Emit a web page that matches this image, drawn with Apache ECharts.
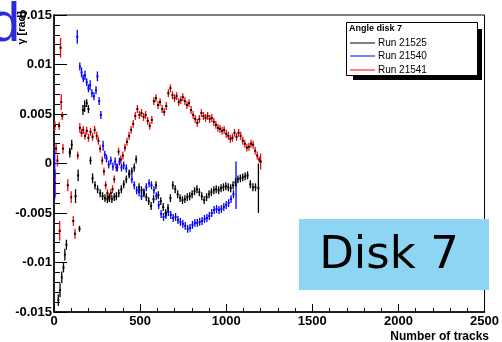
<!DOCTYPE html>
<html><head><meta charset="utf-8">
<script src="https://cdn.jsdelivr.net/npm/echarts@6/dist/echarts.min.js"></script>
<style>html,body{margin:0;padding:0;background:#fff}#c{width:502px;height:342px}</style>
</head><body><div id="c"></div>
<script>
// Tick labels
var xTicks = [0, 500, 1000, 1500, 2000, 2500];
var yTicks = [-0.015, -0.01, -0.005, 0, 0.005, 0.01, 0.015];
var legendTitle = 'Angle disk 7';
var seriesNames = ['Run 21525', 'Run 21540', 'Run 21541'];
// [number of tracks, angle (rad), error]
var run21525 = [
[25,-0.0138,0.0006],[35,-0.0128,0.0007],[45,-0.0115,0.0006],[55,-0.0105,0.0005],[63,-0.0092,0.0006],[72,-0.0082,0.0005],
[92,0.0011,0.0005],[103,0.0019,0.0005],[125,-0.0033,0.0007],[140,-0.0012,0.0006],[148,-0.0066,0.0003],
[168,0.0054,0.0005],[178,0.0058,0.0006],[190,0.0061,0.0004],[200,0.0055,0.0004],[212,0.0003,0.0004],
[224,-0.0015,0.0005],[238,-0.0022,0.0004],[253,-0.0026,0.0004],[268,-0.003,0.0004],[282,-0.0033,0.0004],[296,-0.0035,0.0004],
[310,-0.0036,0.0004],[322,-0.0035,0.0004],[336,-0.0036,0.0004],[350,-0.0034,0.0004],[362,-0.0033,0.0004],[376,-0.003,0.0004],
[391,-0.0026,0.0004],[405,-0.0021,0.0004],[420,-0.0016,0.0004],[437,-0.001,0.0004],[452,-0.0008,0.0004],[466,-0.0004,0.0004],
[477,0.0004,0.0004],[494,-0.0024,0.0004],[508,-0.0027,0.0004],[522,-0.003,0.0004],[536,-0.0034,0.0004],[550,-0.0038,0.0004],
[564,-0.0043,0.0004],[578,-0.0036,0.0004],[592,-0.0022,0.0004],[606,-0.0032,0.0004],[620,-0.0038,0.0004],[634,-0.0044,0.0004],
[648,-0.005,0.0004],[662,-0.0045,0.0004],[676,-0.0035,0.0004],[690,-0.0022,0.0004],[704,-0.0026,0.0004],[718,-0.0031,0.0004],
[732,-0.0035,0.0004],[746,-0.0037,0.0004],[760,-0.0036,0.0004],[774,-0.0034,0.0004],[788,-0.0033,0.0004],[802,-0.0031,0.0004],
[816,-0.0028,0.0004],[830,-0.0026,0.0004],[844,-0.0029,0.0004],[858,-0.0033,0.0004],[872,-0.0037,0.0004],[886,-0.0034,0.0004],
[900,-0.0031,0.0004],[914,-0.0029,0.0004],[928,-0.0027,0.0004],[942,-0.0026,0.0004],[956,-0.0027,0.0004],[970,-0.0025,0.0004],
[984,-0.0024,0.0004],[998,-0.0023,0.0004],[1012,-0.0024,0.0004],[1026,-0.0025,0.0004],[1040,-0.0022,0.0004],[1054,-0.0019,0.0004],
[1068,-0.0016,0.0004],[1082,-0.0015,0.0004],[1096,-0.0014,0.0004],[1110,-0.0013,0.0004],[1124,-0.0012,0.0004],[1140,-0.0021,0.0004],
[1155,-0.0024,0.0004],[1170,-0.0024,0.0004],[1187,-0.0025,0.0025]
];
var run21540 = [
[4,-0.0012,0.0024],
[135,0.0128,0.0007],[150,0.0098,0.0004],[160,0.0092,0.0005],[170,0.0086,0.0004],[180,0.0089,0.0005],[190,0.0082,0.0004],
[200,0.0076,0.0004],[210,0.0079,0.0005],[220,0.0071,0.0004],[232,0.0068,0.0004],[244,0.0074,0.0004],[252,0.0088,0.0005],
[262,0.0063,0.0004],[272,0.0049,0.0004],[285,0.0018,0.0005],[295,0.0009,0.0004],[305,0.0005,0.0004],[318,-0.0001,0.0004],
[330,0.0003,0.0004],[342,-0.0003,0.0004],[355,0.0002,0.0004],[368,-0.0004,0.0004],[380,0.0002,0.0004],[392,-0.0004,0.0004],
[405,-0.0002,0.0004],[420,-0.0005,0.0004],[437,-0.0011,0.0004],[452,-0.0016,0.0004],[466,-0.0022,0.0004],[480,-0.0027,0.0004],
[494,-0.0029,0.0004],[508,-0.0033,0.0004],[522,-0.0029,0.0004],[536,-0.0024,0.0004],[552,-0.002,0.0004],[566,-0.0022,0.0004],
[580,-0.0027,0.0004],[594,-0.0033,0.0004],[608,-0.0042,0.0004],[622,-0.0051,0.0004],[636,-0.0054,0.0004],[650,-0.0052,0.0004],
[664,-0.0049,0.0004],[678,-0.0052,0.0004],[692,-0.0055,0.0004],[706,-0.0054,0.0004],[720,-0.0057,0.0004],[734,-0.0059,0.0004],
[748,-0.0061,0.0004],[762,-0.0063,0.0004],[776,-0.0066,0.0004],[790,-0.0065,0.0004],[804,-0.0062,0.0004],[818,-0.006,0.0004],
[832,-0.006,0.0004],[846,-0.0059,0.0004],[860,-0.0058,0.0004],[874,-0.0056,0.0004],[888,-0.0055,0.0004],[902,-0.0053,0.0004],
[916,-0.005,0.0004],[930,-0.0047,0.0004],[944,-0.0046,0.0004],[958,-0.0047,0.0004],[972,-0.0046,0.0004],[986,-0.0044,0.0004],
[1000,-0.0042,0.0004],[1014,-0.004,0.0004],[1028,-0.0036,0.0004],[1042,-0.0031,0.0004],[1057,-0.0022,0.0024]
];
var run21541 = [
[5,0.0038,0.0005],[12,0.0015,0.0005],[6,-0.002,0.0014],[20,0.0003,0.0006],[30,0.0038,0.0004],[38,0.0117,0.001],
[42,0.0062,0.0008],[48,0.0048,0.0004],[33,-0.0068,0.001],[52,0.0015,0.0005],[80,-0.0022,0.0006],[92,0.0012,0.0003],
[100,-0.0034,0.0006],[112,-0.0058,0.0005],[122,-0.0071,0.0005],[138,0.0008,0.0004],
[150,0.0036,0.0005],[160,0.0031,0.0004],[170,0.0034,0.0004],[180,0.0028,0.0004],[190,0.0033,0.0004],[200,0.0026,0.0004],
[212,0.0032,0.0004],[224,0.0027,0.0004],[236,0.0034,0.0004],[248,0.0028,0.0004],[258,0.0023,0.0004],[268,0.0015,0.0004],
[280,0.0003,0.0004],[290,-0.0008,0.0004],[300,-0.0022,0.0004],[310,-0.003,0.0004],[320,-0.0034,0.0004],[330,-0.003,0.0004],
[340,-0.0026,0.0004],[350,-0.0016,0.0004],[362,-0.0004,0.0004],[375,0.0012,0.0004],[388,0.0004,0.0004],[400,0.0008,0.0004],
[412,0.0016,0.0004],[424,0.0022,0.0004],[436,0.0028,0.0004],[448,0.0034,0.0004],[460,0.004,0.0004],[472,0.0048,0.0004],
[484,0.0055,0.0004],[496,0.0049,0.0004],[508,0.0051,0.0004],[520,0.0047,0.0004],[532,0.0049,0.0004],[544,0.0043,0.0004],
[556,0.0038,0.0004],[568,0.0044,0.0004],[580,0.0063,0.0004],[592,0.0066,0.0004],[604,0.0059,0.0004],[616,0.0062,0.0004],
[628,0.0055,0.0004],[640,0.0052,0.0004],[652,0.0058,0.0004],[664,0.0071,0.0004],[676,0.0076,0.0004],[688,0.0069,0.0004],
[700,0.0066,0.0004],[712,0.0068,0.0004],[724,0.0062,0.0004],[736,0.0064,0.0004],[748,0.0067,0.0004],[760,0.0063,0.0004],
[772,0.0059,0.0004],[784,0.0061,0.0004],[796,0.0054,0.0004],[808,0.0049,0.0004],[820,0.0045,0.0004],[832,0.0041,0.0004],
[844,0.0045,0.0004],[856,0.0051,0.0004],[868,0.0048,0.0004],[880,0.0046,0.0004],[892,0.0048,0.0004],[904,0.0045,0.0004],
[916,0.0046,0.0004],[928,0.0042,0.0004],[940,0.0039,0.0004],[952,0.0036,0.0004],[964,0.0035,0.0004],[976,0.0033,0.0004],
[988,0.0034,0.0004],[1000,0.003,0.0004],[1012,0.0028,0.0004],[1024,0.0025,0.0004],[1036,0.0026,0.0004],[1048,0.0031,0.0004],
[1060,0.0027,0.0004],[1072,0.0031,0.0004],[1084,0.0028,0.0004],[1096,0.0023,0.0004],[1108,0.002,0.0004],[1120,0.0016,0.0004],
[1132,0.0017,0.0004],[1144,0.002,0.0004],[1156,0.0019,0.0004],[1168,0.0013,0.0004],[1180,0.0008,0.0004],[1192,0.0004,0.0003],
[1200,0.0002,0.0008]
];

var colors = ['#000000', '#0000ff', '#ff0000'];
var dotColors = ['#000000', '#0000ff', '#000000'];
var FONT = 'Liberation Sans';

function makeRender(color, dot) {
  return function (params, api) {
    var x = api.value(0), y = api.value(1), e = api.value(2);
    var p1 = api.coord([x, y + e]), p2 = api.coord([x, y - e]), c = api.coord([x, y]);
    return {
      type: 'group',
      children: [
        {type: 'line', shape: {x1: p1[0], y1: p1[1], x2: p2[0], y2: p2[1]}, style: {stroke: color, lineWidth: 1.3}},
        {type: 'rect', shape: {x: c[0] - 1, y: c[1] - 1, width: 2, height: 2}, style: {fill: dot}}
      ]
    };
  };
}

function fmt(v) { return String(+(+v).toFixed(4)); }

var chart = echarts.init(document.getElementById('c'), null, {renderer: 'canvas'});
var datas = [run21525, run21540, run21541];
var series = datas.map(function (d, i) {
  return {
    type: 'custom', name: seriesNames[i], data: d,
    renderItem: makeRender(colors[i], dotColors[i]),
    encode: {x: 0, y: 1}, clip: true, z: 3 - i + 2
  };
});

var legendY = [43, 56, 70];
var graphics = [
  {type: 'text', x: -11, y: -2, style: {text: 'd', font: '56px "Liberation Sans"', fill: '#2a2ae0'}, z: 10},
  {type: 'text', x: 22, y: 11, rotation: Math.PI / 2, style: {text: 'γ [rad]', font: 'bold 11px "Liberation Sans"', fill: '#000', align: 'right', verticalAlign: 'middle'}, z: 10},
  {type: 'text', x: 489, y: 337, style: {text: 'Number of tracks', font: 'bold 12px "Liberation Sans"', fill: '#000', align: 'right', verticalAlign: 'middle'}, z: 10},
  {type: 'rect', shape: {x: 353, y: 29, width: 129, height: 51}, style: {fill: '#000'}, z: 10},
  {type: 'rect', shape: {x: 346.5, y: 22.5, width: 131, height: 53}, style: {fill: '#fff', stroke: '#000', lineWidth: 1}, z: 11},
  {type: 'text', x: 349, y: 29, style: {text: legendTitle, font: 'bold 9px "Liberation Sans"', fill: '#000', verticalAlign: 'middle'}, z: 12},
  {type: 'rect', shape: {x: 299, y: 219, width: 190, height: 71}, style: {fill: '#8ed5f3'}, z: 10},
  {type: 'text', x: 389, y: 256, style: {text: 'Disk 7', font: '45px "DejaVu Sans"', fill: '#000', align: 'center', verticalAlign: 'middle'}, z: 11}
];
for (var i = 0; i < 3; i++) {
  graphics.push({type: 'line', shape: {x1: 350, y1: legendY[i], x2: 375, y2: legendY[i]}, style: {stroke: colors[i], lineWidth: 1}, z: 12});
  graphics.push({type: 'text', x: 378, y: legendY[i], style: {text: seriesNames[i], font: '10px "Liberation Sans"', fill: '#000', verticalAlign: 'middle'}, z: 12});
}

chart.setOption({
  animation: false,
  backgroundColor: '#fff',
  grid: {left: 54, right: 13, top: 15, bottom: 30, show: true, borderColor: '#000', borderWidth: 1, backgroundColor: 'transparent'},
  xAxis: {
    type: 'value', min: xTicks[0], max: xTicks[xTicks.length - 1], interval: xTicks[1] - xTicks[0],
    axisLine: {show: true, onZero: false, lineStyle: {color: '#000', width: 1.5}},
    axisTick: {show: true, inside: true, length: 8, lineStyle: {color: '#000'}},
    minorTick: {show: true, splitNumber: 5, length: 4, lineStyle: {color: '#000'}},
    splitLine: {show: false},
    axisLabel: {color: '#000', fontFamily: FONT, fontWeight: 'bold', fontSize: 13, margin: 3, showMinLabel: true, showMaxLabel: true, formatter: fmt}
  },
  yAxis: {
    type: 'value', min: yTicks[0], max: yTicks[yTicks.length - 1], interval: 0.005,
    axisLine: {show: true, onZero: false, lineStyle: {color: '#000', width: 1.5}},
    axisTick: {show: true, inside: true, length: 13, lineStyle: {color: '#000'}},
    minorTick: {show: true, splitNumber: 5, length: 6, lineStyle: {color: '#000'}},
    splitLine: {show: false},
    axisLabel: {color: '#000', fontFamily: FONT, fontWeight: 'bold', fontSize: 13, margin: 2, showMinLabel: true, showMaxLabel: true, formatter: fmt}
  },
  graphic: graphics,
  series: series
});
</script></body></html>
